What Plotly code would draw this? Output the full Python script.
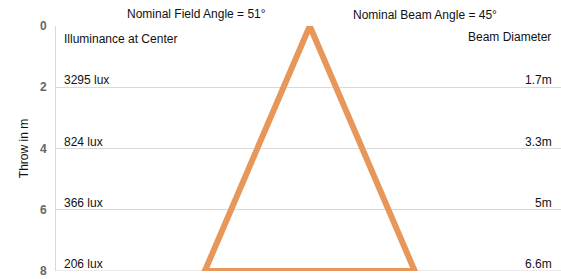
import plotly.graph_objects as go

throws = [2, 4, 6, 8]
lux_labels = ["3295 lux", "824 lux", "366 lux", "206 lux"]
diam_labels = ["1.7m", "3.3m", "5m", "6.6m"]
beam_x = [0, -3.3, 3.3, 0]
beam_y = [0, 8, 8, 0]
field_angle = 51
beam_angle = 45

fig = go.Figure()
fig.add_trace(go.Scatter(x=beam_x, y=beam_y, mode="lines",
                         line=dict(color="#E8975A", width=6),
                         hoverinfo="skip", showlegend=False))

ff = "Liberation Sans, Arial, sans-serif"
font = dict(family=ff, size=12, color="#111")

ann = []
ann.append(dict(text=f"Nominal Field Angle = {field_angle}°", xref="paper", yref="paper",
                x=(196 - 56) / 505, y=1 + 12 / 245, xanchor="center", yanchor="middle",
                showarrow=False, font=font))
ann.append(dict(text=f"Nominal Beam Angle = {beam_angle}°", xref="paper", yref="paper",
                x=(425 - 56) / 505, y=1 + 11 / 245, xanchor="center", yanchor="middle",
                showarrow=False, font=font))
ann.append(dict(text="Illuminance at Center", xref="paper", yref="y",
                x=6 / 505, y=0.42, xanchor="left", yanchor="middle",
                showarrow=False, font=font))
ann.append(dict(text="Beam Diameter", xref="paper", yref="y",
                x=(553 - 56) / 505, y=0.35, xanchor="right", yanchor="middle",
                showarrow=False, font=font))
for t, l, d in zip(throws, lux_labels, diam_labels):
    ann.append(dict(text=l, xref="paper", yref="y", x=6 / 505, y=t,
                    xanchor="left", yanchor="bottom", yshift=-2,
                    showarrow=False, font=font))
    ann.append(dict(text=d, xref="paper", yref="y", x=(554 - 56) / 505, y=t,
                    xanchor="right", yanchor="bottom", yshift=-2,
                    showarrow=False, font=font))

fig.update_layout(
    width=561, height=279,
    margin=dict(l=56, r=0, t=26, b=8),
    paper_bgcolor="white", plot_bgcolor="white",
    annotations=ann,
    xaxis=dict(range=[-7.98, 7.9], visible=False, fixedrange=True),
    yaxis=dict(range=[8, 0], tickvals=[0, 2, 4, 6, 8],
               tickfont=dict(family=ff, size=12, color="#666666", weight="bold"),
               showgrid=True, gridcolor="#d9d9d9", gridwidth=1,
               showline=True, linecolor="#d9d9d9", linewidth=1,
               zeroline=False, ticks="", ticklabelstandoff=6,
               title=dict(text="Throw in m", font=font, standoff=8)),
)
fig.add_shape(type="line", xref="paper", yref="y", x0=0, x1=1, y0=8, y1=8,
              line=dict(color="#d9d9d9", width=1), layer="below")
fig.write_html("out.html", post_script="document.body.style.margin='0';",
               config={"displayModeBar": False})
